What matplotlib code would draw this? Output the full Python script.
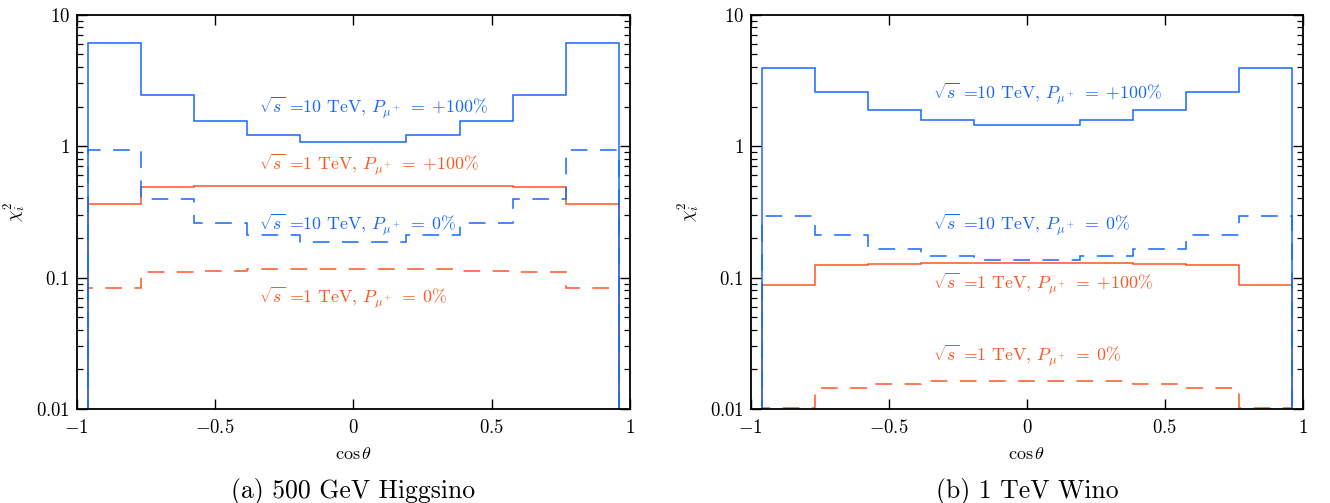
import matplotlib
matplotlib.use("Agg")
import matplotlib.pyplot as plt
from matplotlib.ticker import FixedLocator, LogLocator, NullFormatter, NullLocator

# bin edges in cos(theta)
EDGES = [-0.96, -0.768, -0.576, -0.384, -0.192, 0.0, 0.192, 0.384, 0.576, 0.768, 0.96]

# (a) 500 GeV Higgsino
HIGGSINO_10TEV_POL = [6.05, 2.43, 1.56, 1.22, 1.08, 1.08, 1.22, 1.56, 2.43, 6.05]
HIGGSINO_10TEV_UNPOL = [0.94, 0.393, 0.26, 0.209, 0.188, 0.188, 0.209, 0.26, 0.393, 0.94]
HIGGSINO_1TEV_POL = [0.366, 0.49, 0.50, 0.497, 0.497, 0.497, 0.497, 0.50, 0.49, 0.366]
HIGGSINO_1TEV_UNPOL = [0.0834, 0.110, 0.113, 0.1165, 0.117, 0.117, 0.1165, 0.113, 0.110, 0.0834]

# (b) 1 TeV Wino
WINO_10TEV_POL = [3.95, 2.59, 1.89, 1.58, 1.44, 1.44, 1.58, 1.89, 2.59, 3.95]
WINO_10TEV_UNPOL = [0.293, 0.210, 0.166, 0.146, 0.137, 0.137, 0.146, 0.166, 0.210, 0.293]
WINO_1TEV_POL = [0.0885, 0.124, 0.1275, 0.129, 0.129, 0.129, 0.129, 0.1275, 0.124, 0.0885]
WINO_1TEV_UNPOL = [0.0101, 0.0145, 0.0156, 0.01625, 0.0164, 0.0164, 0.01625, 0.0156, 0.0145, 0.0101]

# braces keep mathtext from adding its own spacing around = and +
LABEL_10_POL = r"$\sqrt{s}$ =10 TeV, $P_{\mu^+}\;{=}\;{+}100\%$"
LABEL_1_POL = r"$\sqrt{s}$ =1 TeV, $P_{\mu^+}\;{=}\;{+}100\%$"
LABEL_10_UNPOL = r"$\sqrt{s}$ =10 TeV, $P_{\mu^+}\;{=}\;0\%$"
LABEL_1_UNPOL = r"$\sqrt{s}$ =1 TeV, $P_{\mu^+}\;{=}\;0\%$"

XTICKS = [-1, -0.5, 0, 0.5, 1]
XTICKLABELS = [r"$-1$", r"$-0.5$", r"$0$", r"$0.5$", r"$1$"]
YTICKS = [0.01, 0.1, 1, 10]
YTICKLABELS = [r"$0.01$", r"$0.1$", r"$1$", r"$10$"]

BLUE = "#1767ff"
ORANGE = "#ff5522"
DASH = (0, (12, 9))

plt.rcParams.update({
    "font.family": "serif",
    "font.serif": ["cmr10", "DejaVu Serif"],
    "mathtext.fontset": "cm",
    "axes.formatter.use_mathtext": True,
    "axes.linewidth": 1.3,
    "lines.scale_dashes": False,
    "xtick.direction": "in",
    "ytick.direction": "in",
    "xtick.top": True,
    "ytick.right": True,
    "xtick.major.size": 7,
    "ytick.major.size": 7,
    "ytick.minor.size": 4.3,
    "xtick.major.width": 1.0,
    "ytick.major.width": 1.0,
    "ytick.minor.width": 0.9,
    "xtick.labelsize": 13.5,
    "ytick.labelsize": 13.5,
})


def panel(ax, pol10, unpol10, pol1, unpol1, label_y, caption):
    base = 1e-4
    ax.stairs(pol1, EDGES, baseline=base, color=ORANGE, lw=1.1)
    ax.stairs(unpol1, EDGES, baseline=base, color=ORANGE, lw=1.1, linestyle=DASH)
    ax.stairs(unpol10, EDGES, baseline=base, color=BLUE, lw=1.1, linestyle=DASH)
    ax.stairs(pol10, EDGES, baseline=base, color=BLUE, lw=1.1)

    ax.set_yscale("log")
    ax.set_xlim(-1, 1)
    ax.set_ylim(0.01, 10)

    ax.xaxis.set_major_locator(FixedLocator(XTICKS))
    ax.set_xticklabels(XTICKLABELS)
    ax.xaxis.set_minor_locator(NullLocator())
    ax.yaxis.set_major_locator(FixedLocator(YTICKS))
    ax.set_yticklabels(YTICKLABELS)
    ax.yaxis.set_minor_locator(LogLocator(base=10, subs=range(2, 10)))
    ax.yaxis.set_minor_formatter(NullFormatter())
    ax.tick_params(axis="x", pad=7)
    ax.tick_params(axis="y", pad=5)

    ax.set_xlabel(r"$\cos\theta$", fontsize=13, labelpad=7)
    ax.set_ylabel(r"$\chi_i^2$", fontsize=13, labelpad=6)

    x0 = -0.34
    ax.text(x0, label_y[0], LABEL_10_POL, color=BLUE, fontsize=12.8, va="center")
    ax.text(x0, label_y[1], LABEL_1_POL, color=ORANGE, fontsize=12.8, va="center")
    ax.text(x0, label_y[2], LABEL_10_UNPOL, color=BLUE, fontsize=12.8, va="center")
    ax.text(x0, label_y[3], LABEL_1_UNPOL, color=ORANGE, fontsize=12.8, va="center")

    ax.text(0.5, -0.21, caption, transform=ax.transAxes, ha="center", va="center",
            fontsize=18.5)


fig = plt.figure(figsize=(13.3, 5.03), dpi=100)
ax1 = fig.add_axes([76.7 / 1330, 1 - 409 / 503, 553.3 / 1330, 394.3 / 503])
ax2 = fig.add_axes([750.7 / 1330, 1 - 409 / 503, 552.3 / 1330, 394.3 / 503])

panel(ax1, HIGGSINO_10TEV_POL, HIGGSINO_10TEV_UNPOL, HIGGSINO_1TEV_POL,
      HIGGSINO_1TEV_UNPOL, [1.94, 0.716, 0.25, 0.070], "(a) 500 GeV Higgsino")
panel(ax2, WINO_10TEV_POL, WINO_10TEV_UNPOL, WINO_1TEV_POL,
      WINO_1TEV_UNPOL, [2.52, 0.090, 0.25, 0.0252], "(b) 1 TeV Wino")

fig.savefig("out.png", dpi=100)
